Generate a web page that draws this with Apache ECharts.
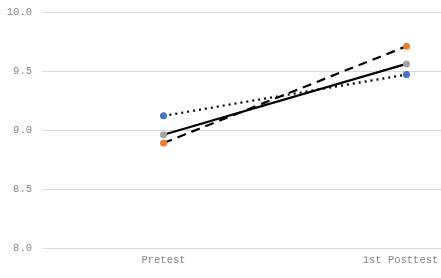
<!DOCTYPE html>
<html lang="en">
<head>
    <meta charset="UTF-8">
    <script src="https://cdn.jsdelivr.net/npm/echarts@6/dist/echarts.min.js"></script>
    <title>Pretest / Posttest</title>
    <style>
        html, body { margin: 0; padding: 0; background: #fff; }
        #main { width: 441px; height: 278px; }
    </style>
</head>
<body>
<div id="main"></div>
<script>
    var categories = ['Pretest', '1st Posttest']
    var blueValues = [9.12, 9.47]
    var orangeValues = [8.89, 9.71]
    var grayValues = [8.96, 9.56]
    var yTicks = [8.0, 8.5, 9.0, 9.5, 10.0]

    var labelFont = '"Liberation Mono", monospace'

    function makeSeries(name, values, dotColor, lineType) {
        return {
            name: name,
            type: 'line',
            data: values,
            symbol: 'circle',
            symbolSize: 7,
            itemStyle: { color: dotColor },
            lineStyle: { color: '#000', width: 2.2, type: lineType },
            animation: false
        }
    }

    var myChart = echarts.init(document.getElementById('main'))

    // the plot area runs past the right edge, like the original
    var option = {
        grid: { left: 42, top: 12, right: -87, bottom: 30, outerBoundsMode: 'none', containLabel: false },
        xAxis: {
            type: 'category',
            data: categories,
            boundaryGap: true,
            axisLine: { lineStyle: { color: '#d9d9d9' } },
            axisTick: { show: false },
            axisLabel: {
                color: '#858585', fontSize: 10.5, fontFamily: labelFont, margin: 7,
                // last label is pushed left so it stays inside the picture
                formatter: function (v, i) {
                    return i === categories.length - 1 ? '{last|' + v + '}' : v
                },
                rich: {
                    last: { color: '#858585', fontSize: 10.5, fontFamily: labelFont, padding: [0, 12, 0, 0] }
                }
            }
        },
        yAxis: {
            type: 'value',
            min: yTicks[0],
            max: yTicks[yTicks.length - 1],
            interval: 0.5,
            axisLine: { show: false },
            axisTick: { show: false },
            splitLine: { lineStyle: { color: '#d9d9d9' } },
            axisLabel: {
                color: '#858585', fontSize: 10.5, fontFamily: labelFont, margin: 10,
                formatter: function (v) { return v.toFixed(1) }
            }
        },
        series: [
            makeSeries('A', blueValues, '#4472c4', [2, 4]),
            makeSeries('B', orangeValues, '#ed7d31', [9, 6]),
            makeSeries('C', grayValues, '#a5a5a5', 'solid')
        ]
    }

    myChart.setOption(option)
</script>
</body>
</html>
